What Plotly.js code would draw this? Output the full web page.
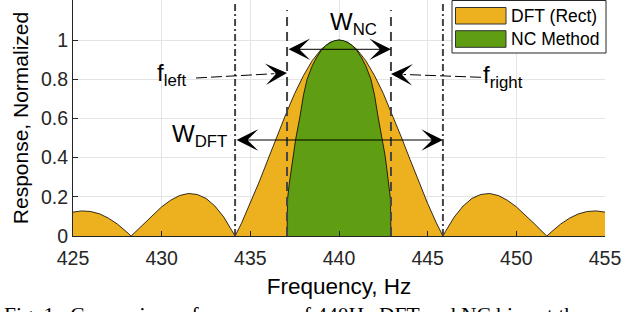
<!DOCTYPE html>
<html>
<head>
<meta charset="utf-8">
<script src="https://cdn.plot.ly/plotly-3.0.1.min.js"></script>
<style>
  html, body { margin: 0; padding: 0; background: #fff; }
  #chart { width: 640px; height: 312px; }
</style>
</head>
<body>
<div id="chart"></div>
<script>
// ---- data ----
const freqDFT = [425,425.5,426,426.5,427,427.5,428,428.28,428.5,429,429.5,430,430.5,431,431.5,432,432.5,433,433.5,434,434.14,434.5,435,435.5,436,436.5,437,437.5,438,438.5,439,439.5,440,
                 440.5,441,441.5,442,442.5,443,443.5,444,444.5,445,445.5,445.86,446,446.5,447,447.5,448,448.5,449,449.5,450,450.5,451,451.5,451.72,452,452.5,453,453.5,454,454.5,455];
const respDFT = [0.122,0.128,0.125,0.113,0.091,0.061,0.023,0,0.019,0.064,0.108,0.149,0.182,0.206,0.217,0.212,0.192,0.153,0.097,0.023,0,0.065,0.166,0.276,0.392,0.508,0.621,0.727,0.819,0.896,0.953,0.988,1,
                 0.988,0.953,0.896,0.819,0.727,0.621,0.508,0.392,0.276,0.166,0.065,0,0.023,0.097,0.153,0.192,0.212,0.217,0.206,0.182,0.149,0.108,0.064,0.019,0,0.023,0.061,0.091,0.113,0.125,0.128,0.122];

const freqNC = [437.07,437.1,437.2,437.3,437.4,437.55,437.8,438,438.2,438.5,438.75,439,439.25,439.5,439.75,440,
                440.25,440.5,440.75,441,441.25,441.5,441.8,442,442.2,442.45,442.6,442.7,442.8,442.9,442.93];
const respNC = [0,0.19,0.27,0.34,0.41,0.49,0.61,0.72,0.80,0.87,0.913,0.947,0.972,0.987,0.997,1,
                0.997,0.987,0.972,0.947,0.913,0.87,0.80,0.72,0.61,0.49,0.41,0.34,0.27,0.19,0];

const xTickVals = [425,430,435,440,445,450,455];
const yTickVals = [0,0.2,0.4,0.6,0.8,1];
const yTickText = ['0','0.2','0.4','0.6','0.8','1'];

const widthDFT = [434.14, 445.86];   // outer (dash-dot) bounds
const widthNC  = [437.07, 442.93];   // inner (dashed) bounds
const seriesNames = ['DFT (Rect)', 'NC Method'];
const xAxisTitle = 'Frequency, Hz';
const yAxisTitle = 'Response, Normalized';
const captionText = 'Fig. 1.&nbsp; Comparison of responses of 440Hz DFT and NC bins at the same';

// ---- styling ----
const YELLOW = '#EDB120';
const GREEN = '#5F9E12';
const SANS = 'Liberation Sans, Arial, Helvetica, sans-serif';
const SERIF = 'Liberation Serif, Times New Roman, serif';
const INK = '#262626';

// plot geometry (pixels) used to place text annotations
const M = {l: 73, r: 35, t: 0, b: 76};
const W = 640 - M.l - M.r, H = 312 - M.t - M.b;
const X0 = 425, X1 = 455, Y0 = 0, Y1 = H / 196;
const dx = px => X0 + (px - M.l) / W * (X1 - X0);
const dy = py => Y0 + (M.t + H - py) / H * (Y1 - Y0);
const paperX = px => (px - M.l) / W;
const paperY = py => (M.t + H - py) / H;

const traces = [
  {x: freqDFT, y: respDFT, name: seriesNames[0], type: 'scatter', mode: 'lines',
   fill: 'tozeroy', fillcolor: YELLOW, line: {color: '#000', width: 0.8}, showlegend: false, hoverinfo: 'skip'},
  {x: freqNC, y: respNC, name: seriesNames[1], type: 'scatter', mode: 'lines',
   fill: 'tozeroy', fillcolor: GREEN, line: {color: '#000', width: 0.8}, showlegend: false, hoverinfo: 'skip'}
];

const shapes = [];
widthDFT.forEach(f => shapes.push({type: 'line', xref: 'x', yref: 'y', x0: f, x1: f, y0: 0, y1: 1.19,
  line: {color: '#444', width: 2, dash: '7px,3px,2px,3px'}}));
widthNC.forEach(f => shapes.push({type: 'line', xref: 'x', yref: 'y', x0: f, x1: f, y0: 0, y1: 1.153,
  line: {color: '#444', width: 2, dash: '9px,6px'}}));

// dashed pointer lines for f_left and f_right
const fLeftTail = [dx(196), dy(78)], fLeftHead = [widthNC[0], dy(73)];
const fRightTail = [dx(481), dy(77.3)], fRightHead = [widthNC[1], dy(74)];
function towards(a, b, frac) { return [a[0] + (b[0] - a[0]) * frac, a[1] + (b[1] - a[1]) * frac]; }
const fLeftStop = towards(fLeftTail, fLeftHead, 0.86);
const fRightStop = towards(fRightTail, fRightHead, 0.86);
shapes.push({type: 'line', xref: 'x', yref: 'y', x0: fLeftTail[0], y0: fLeftTail[1], x1: fLeftStop[0], y1: fLeftStop[1],
  line: {color: '#000', width: 1, dash: '11px,4px'}});
shapes.push({type: 'line', xref: 'x', yref: 'y', x0: fRightTail[0], y0: fRightTail[1], x1: fRightStop[0], y1: fRightStop[1],
  line: {color: '#000', width: 1, dash: '11px,4px'}});

// legend drawn by hand (box + patches)
shapes.push({type: 'rect', xref: 'paper', yref: 'paper', x0: paperX(452), x1: paperX(606), y0: paperY(53), y1: paperY(0.5),
  line: {color: INK, width: 1}, fillcolor: '#fff', layer: 'above'});
shapes.push({type: 'rect', xref: 'paper', yref: 'paper', x0: paperX(455.5), x1: paperX(506), y0: paperY(24), y1: paperY(7.5),
  line: {color: '#333', width: 1}, fillcolor: YELLOW, layer: 'above'});
shapes.push({type: 'rect', xref: 'paper', yref: 'paper', x0: paperX(455.5), x1: paperX(506), y0: paperY(47.3), y1: paperY(30.7),
  line: {color: '#333', width: 1}, fillcolor: GREEN, layer: 'above'});

const annFont = {family: SANS, size: 24, color: '#000'};
const arrowCommon = {xref: 'x', yref: 'y', axref: 'x', ayref: 'y', text: '', showarrow: true,
  arrowhead: 3, arrowsize: 3.6, arrowwidth: 1, arrowcolor: '#000', standoff: 0};
const annotations = [
  // double arrows
  Object.assign({}, arrowCommon, {x: widthNC[1], y: dy(49.3), ax: widthNC[0], ay: dy(49.3),
    arrowside: 'end+start', startarrowhead: 3, startarrowsize: 3.6, startstandoff: 0}),
  Object.assign({}, arrowCommon, {x: widthDFT[1], y: dy(140), ax: widthDFT[0], ay: dy(140),
    arrowside: 'end+start', startarrowhead: 3, startarrowsize: 3.6, startstandoff: 0}),
  // pointer heads
  Object.assign({}, arrowCommon, {x: fLeftHead[0], y: fLeftHead[1], ax: fLeftStop[0], ay: fLeftStop[1]}),
  Object.assign({}, arrowCommon, {x: fRightHead[0], y: fRightHead[1], ax: fRightStop[0], ay: fRightStop[1]}),
  // labels
  {x: dx(328), y: dy(6), xref: 'x', yref: 'y', xanchor: 'left', yanchor: 'top', showarrow: false,
   text: 'W<sub>NC</sub>', font: annFont},
  {x: dx(155), y: dy(57), xref: 'x', yref: 'y', xanchor: 'left', yanchor: 'top', showarrow: false,
   text: 'f<sub>left</sub>', font: annFont},
  {x: dx(481), y: dy(59), xref: 'x', yref: 'y', xanchor: 'left', yanchor: 'top', showarrow: false,
   text: 'f<sub>right</sub>', font: annFont},
  {x: dx(170), y: dy(118), xref: 'x', yref: 'y', xanchor: 'left', yanchor: 'top', showarrow: false,
   text: 'W<sub>DFT</sub>', font: annFont},
  // legend texts
  {x: paperX(509), y: paperY(15.6), xref: 'paper', yref: 'paper', xanchor: 'left', yanchor: 'middle', showarrow: false,
   text: seriesNames[0], font: {family: SANS, size: 17.5, color: '#000'}},
  {x: paperX(509), y: paperY(39), xref: 'paper', yref: 'paper', xanchor: 'left', yanchor: 'middle', showarrow: false,
   text: seriesNames[1], font: {family: SANS, size: 17.5, color: '#000'}},
  // caption
  {x: paperX(2), y: paperY(301), xref: 'paper', yref: 'paper', xanchor: 'left', yanchor: 'top', showarrow: false,
   text: captionText, font: {family: SERIF, size: 21.5, color: '#000'}}
];

const axisCommon = {
  showline: true, linecolor: INK, linewidth: 1, mirror: false,
  ticks: 'inside', ticklen: 5, tickcolor: INK, tickwidth: 1,
  showgrid: true, gridcolor: '#e4e4e4', gridwidth: 1, zeroline: false,
  tickfont: {family: SANS, size: 19.5, color: INK}, automargin: false
};

const layout = {
  width: 640, height: 312,
  margin: M,
  paper_bgcolor: '#fff', plot_bgcolor: '#fff',
  showlegend: false,
  xaxis: Object.assign({}, axisCommon, {
    range: [X0, X1], tickmode: 'array', tickvals: xTickVals, ticklabelstandoff: 5,
    title: {text: xAxisTitle, font: {family: SANS, size: 22.5, color: '#000'}, standoff: 9}
  }),
  yaxis: Object.assign({}, axisCommon, {
    range: [Y0, Y1], tickmode: 'array', tickvals: yTickVals, ticktext: yTickText,
    title: {text: yAxisTitle, font: {family: SANS, size: 21, color: '#000'}, standoff: 6}
  }),
  shapes: shapes,
  annotations: annotations
};

Plotly.newPlot('chart', traces, layout, {staticPlot: true, displayModeBar: false});
</script>
</body>
</html>
